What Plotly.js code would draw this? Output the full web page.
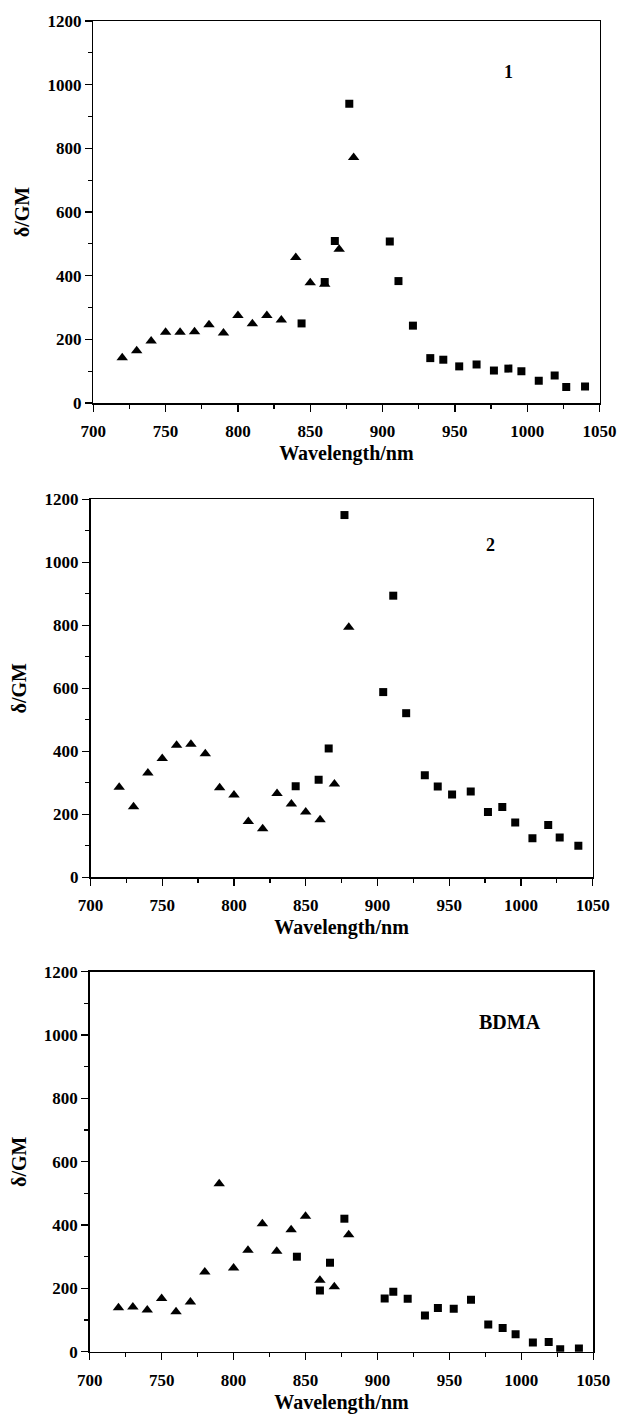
<!DOCTYPE html>
<html>
<head>
<meta charset="utf-8">
<script src="https://cdn.plot.ly/plotly-3.0.1.min.js"></script>
<style>html,body{margin:0;padding:0;background:#fff;}#chart{width:623px;height:1415px;}</style>
</head>
<body>
<div id="chart"></div>
<script>
// Panel 1
const wl1Tri = [720,730,740,750,760,770,780,790,800,810,820,830,840,850,860,870,880];
const d1Tri  = [142,164,195,222,222,224,246,220,275,249,275,261,457,378,373,483,771];
const wl1Sq  = [844,860,867,877,905,911,921,933,942,953,965,977,987,996,1008,1019,1027,1040];
const d1Sq   = [250,380,509,940,507,383,243,141,136,115,121,102,108,100,70,86,50,52];
// Panel 2
const wl2Tri = [720,730,740,750,760,770,780,790,800,810,820,830,840,850,860,870,880];
const d2Tri  = [286,224,331,377,419,422,392,284,261,177,154,266,233,207,183,296,794];
const wl2Sq  = [843,859,866,877,904,911,920,933,942,952,965,977,987,996,1008,1019,1027,1040];
const d2Sq   = [289,310,409,1150,588,894,521,324,288,263,272,207,223,174,124,166,126,100];
// Panel 3 (BDMA)
const wl3Tri = [720,730,740,750,760,770,780,790,800,810,820,830,840,850,860,870,880];
const d3Tri  = [139,141,132,168,126,157,252,530,264,320,404,317,385,428,226,205,369];
const wl3Sq  = [844,860,867,877,905,911,921,933,942,953,965,977,987,996,1008,1019,1027,1040];
const d3Sq   = [300,193,281,420,168,189,167,114,138,136,164,86,75,55,29,31,8,10];

const panelLabels = ["1", "2", "BDMA"];
const xTitle = "Wavelength/nm";
const yTitle = "δ/GM";

const FONT = "Liberation Serif, Times New Roman, serif";
const W = 623, H = 1415;

// panel pixel boxes: [left, right, top, bottom]
const boxes = [
  [93.3, 599.5, 21, 403],
  [90.5, 592.7, 499.3, 877.3],
  [89.7, 593.3, 971.7, 1351.7]
];

const triSets = [[wl1Tri, d1Tri], [wl2Tri, d2Tri], [wl3Tri, d3Tri]];
const sqSets = [[wl1Sq, d1Sq], [wl2Sq, d2Sq], [wl3Sq, d3Sq]];
const labelPos = [[987, 1040], [979, 1055], [992, 1040]];
const labelSize = [18, 18, 20];

const traces = [];
const layout = {
  width: W, height: H,
  margin: {l: 0, r: 0, t: 0, b: 0},
  paper_bgcolor: "#fff", plot_bgcolor: "#fff",
  showlegend: false,
  font: {family: FONT, color: "#000", size: 17, weight: "bold"},
  annotations: []
};

for (let i = 0; i < 3; i++) {
  const s = i === 0 ? "" : String(i + 1);
  const xa = "x" + s, ya = "y" + s;
  traces.push({
    type: "scatter", mode: "markers", x: triSets[i][0], y: triSets[i][1],
    xaxis: xa, yaxis: ya,
    marker: {symbol: "triangle-up", size: 10, color: "#000"}
  });
  traces.push({
    type: "scatter", mode: "markers", x: sqSets[i][0], y: sqSets[i][1],
    xaxis: xa, yaxis: ya,
    marker: {symbol: "square", size: 8, color: "#000"}
  });
  const b = boxes[i];
  const common = {
    showline: true, linecolor: "#000", linewidth: 1.5, mirror: true,
    showgrid: false, zeroline: false,
    ticks: "outside", ticklen: 7, tickwidth: 1.3, tickcolor: "#000",
    tickfont: {family: FONT, size: 17, color: "#000", weight: "bold"},
    automargin: false, fixedrange: true
  };
  layout["xaxis" + s] = Object.assign({}, common, {
    domain: [b[0] / W, b[1] / W],
    anchor: ya,
    range: [700, 1050], dtick: 50, tick0: 700,
    ticklabelstandoff: 5,
    minor: {ticks: "outside", ticklen: 4, dtick: 25, tickcolor: "#000", tickwidth: 1.3},
    title: {text: xTitle, font: {family: FONT, size: 20, color: "#000", weight: "bold"}, standoff: 6}
  });
  layout["yaxis" + s] = Object.assign({}, common, {
    domain: [1 - b[3] / H, 1 - b[2] / H],
    anchor: xa,
    range: [0, 1200], dtick: 200, tick0: 0,
    minor: {ticks: "outside", ticklen: 4, dtick: 100, tickcolor: "#000", tickwidth: 1.3},
    title: {text: yTitle, font: {family: FONT, size: 20, color: "#000", weight: "bold"}, standoff: 12}
  });
  layout.annotations.push({
    xref: xa, yref: ya, x: labelPos[i][0], y: labelPos[i][1],
    text: panelLabels[i], showarrow: false,
    font: {family: FONT, size: labelSize[i], color: "#000", weight: "bold"}
  });
}

Plotly.newPlot("chart", traces, layout, {staticPlot: true, displayModeBar: false});
</script>
</body>
</html>
